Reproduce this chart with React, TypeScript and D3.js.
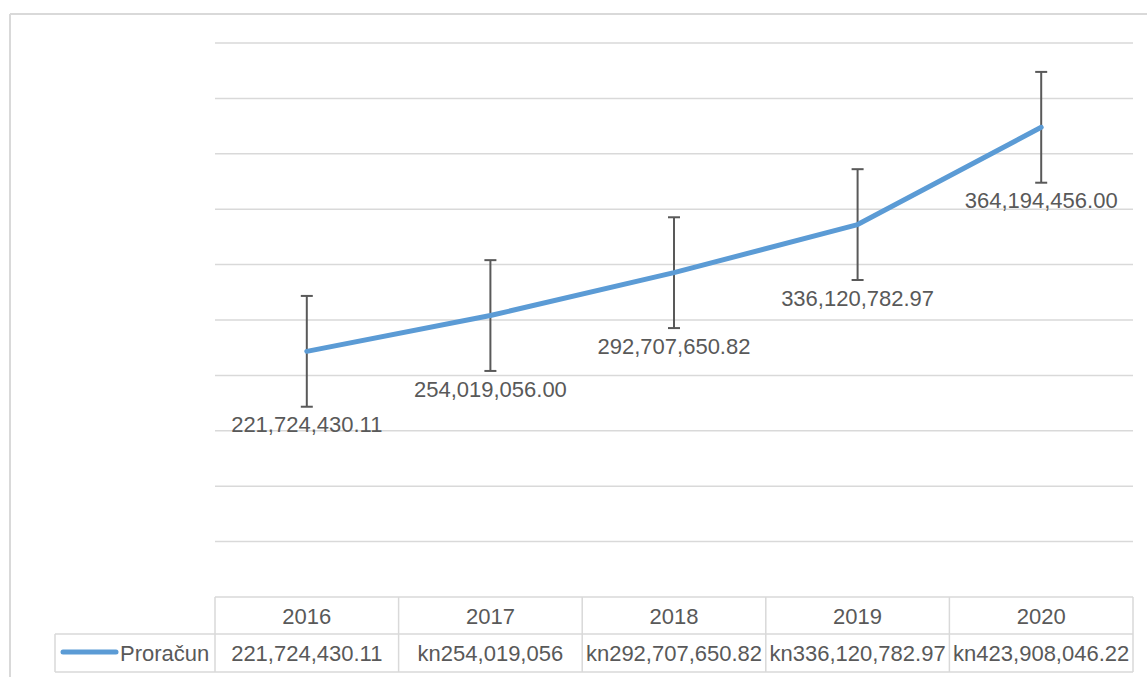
import * as d3 from "d3"

const years = ["2016", "2017", "2018", "2019", "2020"]
const budget = [221724430.11, 254019056, 292707650.82, 336120782.97, 423908046.22]
const pointLabels = ["221,724,430.11", "254,019,056.00", "292,707,650.82", "336,120,782.97", "364,194,456.00"]
const tableValues = ["221,724,430.11", "kn254,019,056", "kn292,707,650.82", "kn336,120,782.97", "kn423,908,046.22"]
const seriesName = "Proračun"
const errorAmount = 50000000
const yMax = 500000000
const yStep = 50000000

const W = 1147
const H = 677
const font = "'Liberation Sans', Arial, sans-serif"
const textColor = "#595959"
const gridColor = "#d9d9d9"
const lineColor = "#5b9bd5"

export default function App() {
    const plotLeft = 215
    const plotRight = 1133
    const plotTop = 43
    const plotBottom = 597
    const rowMid = 634
    const rowBottom = 672
    const legendLeft = 55

    const x = d3.scaleBand().domain(years).range([plotLeft, plotRight])
    const y = d3.scaleLinear().domain([0, yMax]).range([plotBottom, plotTop])
    const cx = (d) => x(d) + x.bandwidth() / 2

    const points = years.map((yr, i) => ({ yr, v: budget[i] }))
    const line = d3.line().x(d => cx(d.yr)).y(d => y(d.v))
    const gridVals = d3.range(yStep, yMax + 1, yStep)

    return (
        <svg width={W} height={H} style={{ position: "absolute", left: 0, top: 0, background: "#fff" }}
            fontFamily={font}>
            {/* chart border */}
            <line x1={10} x2={W} y1={14} y2={14} stroke={gridColor} strokeWidth={2} />
            <line x1={10} x2={10} y1={14} y2={H} stroke={gridColor} strokeWidth={2} />

            {gridVals.map(v => (
                <line key={v} x1={plotLeft} x2={plotRight} y1={y(v)} y2={y(v)} stroke={gridColor} strokeWidth={1.5} />
            ))}

            {/* data table */}
            <g stroke={gridColor} strokeWidth={1.5}>
                <line x1={plotLeft} x2={plotRight} y1={plotBottom} y2={plotBottom} />
                <line x1={legendLeft} x2={plotRight} y1={rowMid} y2={rowMid} />
                <line x1={legendLeft} x2={plotRight} y1={rowBottom} y2={rowBottom} />
                <line x1={legendLeft} x2={legendLeft} y1={rowMid} y2={rowBottom} />
                {years.map(yr => (
                    <line key={yr} x1={x(yr)} x2={x(yr)} y1={plotBottom} y2={rowBottom} />
                ))}
                <line x1={plotRight} x2={plotRight} y1={plotBottom} y2={rowBottom} />
            </g>
            {years.map((yr, i) => (
                <g key={yr} fill={textColor} fontSize={22} textAnchor="middle">
                    <text x={cx(yr)} y={624}>{yr}</text>
                    <text x={cx(yr)} y={661}>{tableValues[i]}</text>
                </g>
            ))}
            <line x1={63} x2={116} y1={652} y2={652} stroke={lineColor} strokeWidth={5} strokeLinecap="round" />
            <text x={120} y={661} fill={textColor} fontSize={22}>{seriesName}</text>

            {/* error bars */}
            {points.map(d => (
                <g key={d.yr} stroke={textColor} strokeWidth={2}>
                    <line x1={cx(d.yr)} x2={cx(d.yr)} y1={y(d.v + errorAmount)} y2={y(d.v - errorAmount)} />
                    <line x1={cx(d.yr) - 6} x2={cx(d.yr) + 6} y1={y(d.v + errorAmount)} y2={y(d.v + errorAmount)} />
                    <line x1={cx(d.yr) - 6} x2={cx(d.yr) + 6} y1={y(d.v - errorAmount)} y2={y(d.v - errorAmount)} />
                </g>
            ))}

            <path d={line(points)} fill="none" stroke={lineColor} strokeWidth={5} strokeLinecap="round" strokeLinejoin="round" />

            {points.map((d, i) => (
                <text key={d.yr} x={cx(d.yr)} y={y(d.v) + 81} fill={textColor} fontSize={22} textAnchor="middle">
                    {pointLabels[i]}
                </text>
            ))}
        </svg>
    )
}
